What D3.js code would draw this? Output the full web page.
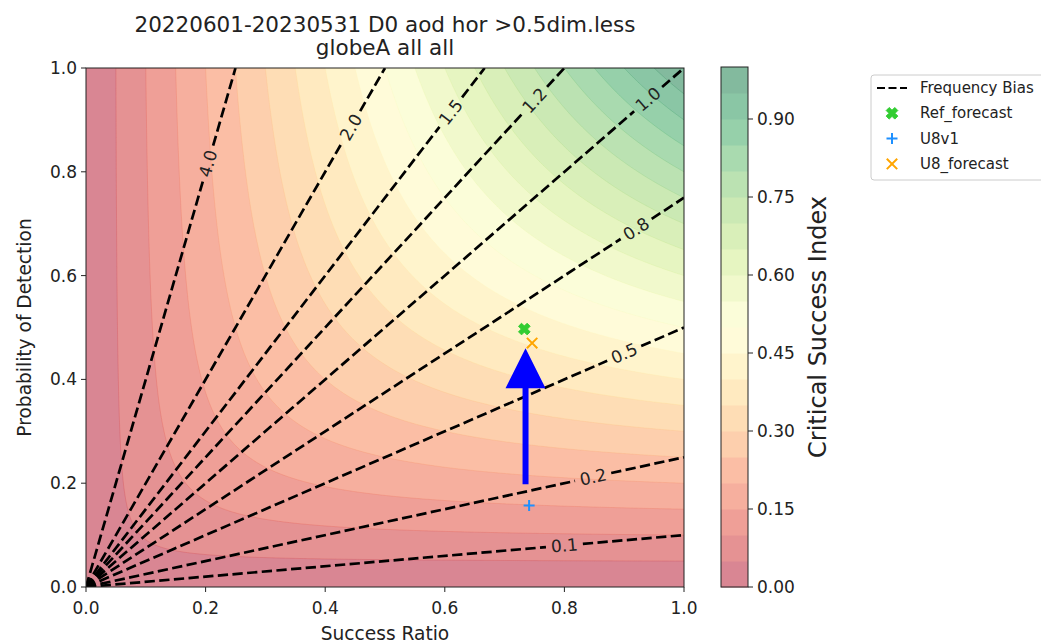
<!DOCTYPE html>
<html><head><meta charset="utf-8">
<script src="https://cdn.jsdelivr.net/npm/d3@7"></script>
<style>
body{margin:0;background:#fff;}
text{font-family:"DejaVu Sans",sans-serif;fill:#222;}
</style></head>
<body>
<svg id="chart" width="1041" height="643"></svg>
<script>
// ---------- data ----------
const titleLines = ["20220601-20230531 D0 aod hor >0.5dim.less", "globeA all all"];
const csiLevels = d3.range(0, 1.0001, 0.05).map(v => +v.toFixed(2));
const biasValues = [0.1, 0.25, 0.5, 0.75, 1.0, 1.25, 1.5, 2.0, 4.0];
const biasLabels = ["0.1", "0.2", "0.5", "0.8", "1.0", "1.2", "1.5", "2.0", "4.0"];
const biasLabelSR = [0.80, 0.848, 0.90, 0.92, 0.94, 0.75, 0.61, 0.443, 0.204];
const axisTicks = [0, 0.2, 0.4, 0.6, 0.8, 1.0];
const cbarTicks = [0, 0.15, 0.30, 0.45, 0.60, 0.75, 0.90];
const seriesNames = ["Ref_forecast", "U8v1", "U8_forecast"];
const seriesSR = [0.733, 0.741, 0.746];
const seriesPOD = [0.497, 0.157, 0.470];
const seriesColors = ["#32CD32", "#1E90FF", "#FFA500"];
const seriesMarkers = ["Xfilled", "plus", "x"];
const arrowSR = 0.735, arrowFrom = 0.198, arrowTo = 0.46;

// ---------- colormap (matplotlib RdYlGn, alpha 0.5) ----------
const rdylgn = ["#a50026","#d73027","#f46d43","#fdae61","#fee08b","#ffffbf","#d9ef8b","#a6d96a","#66bd63","#1a9850","#006837"];
function cmap(t){
  t = Math.max(0, Math.min(1, t));
  const p = t*10, i = Math.min(9, Math.floor(p)), f = p - i;
  return d3.interpolateRgb(rdylgn[i], rdylgn[i+1])(f);
}
const alpha = 0.5;
function blend(c){
  const r = d3.rgb(c);
  return d3.rgb(255 - alpha*(255-r.r), 255 - alpha*(255-r.g), 255 - alpha*(255-r.b)).formatHex();
}

const svg = d3.select("#chart");
const x = d3.scaleLinear([0,1],[86,684]);
const y = d3.scaleLinear([0,1],[587,68]);

svg.append("clipPath").attr("id","clip").append("rect")
  .attr("x",x(0)).attr("y",y(1)).attr("width",x(1)-x(0)).attr("height",y(0)-y(1));
const plot = svg.append("g").attr("clip-path","url(#clip)");

// ---------- CSI filled contours ----------
const n = 301;
const vals = new Float64Array(n*n);
for (let j=0;j<n;j++) for (let i=0;i<n;i++){
  const sr = i/(n-1), pod = j/(n-1);
  vals[i + j*n] = (sr<=0||pod<=0) ? 0 : 1/(1/sr + 1/pod - 1);
}
const clamp01 = v => Math.max(0, Math.min(1, v));
const proj = d3.geoTransform({point(px,py){ this.stream.point(x(clamp01((px-0.5)/(n-1))), y(clamp01((py-0.5)/(n-1)))); }});
const gpath = d3.geoPath(proj);
const bandColor = k => cmap((csiLevels[k]+csiLevels[k+1])/2);
plot.append("rect").attr("x",x(0)).attr("y",y(1)).attr("width",x(1)-x(0)).attr("height",y(0)-y(1))
  .attr("fill", blend(bandColor(0)));
const thr = csiLevels.slice(1, -1);
const contours = d3.contours().size([n,n]).thresholds(thr)(vals);
contours.forEach((c, k) => {
  plot.append("path").attr("d", gpath(c))
    .attr("fill", blend(bandColor(k+1)))
    .attr("stroke", bandColor(k+1)).attr("stroke-opacity", 0.22).attr("stroke-width", 0.9);
});

// ---------- frequency bias lines ----------
const linesG = plot.append("g");
const labelsG = svg.append("g");
biasValues.forEach((b, k) => {
  const s = biasLabelSR[k];
  const p = [x(s), y(b*s)];
  const o = [x(0), y(0)];
  const end = b <= 1 ? [x(1), y(b)] : [x(1/b), y(1)];
  const dx = end[0]-o[0], dy = end[1]-o[1], L = Math.hypot(dx,dy);
  const u = [dx/L, dy/L];
  const ang = Math.atan2(dy, dx)*180/Math.PI;
  const t = labelsG.append("text").attr("x", p[0]).attr("y", p[1])
    .attr("text-anchor","middle").attr("dominant-baseline","central")
    .attr("font-size", 17).attr("transform", `rotate(${ang},${p[0]},${p[1]})`).text(biasLabels[k]);
  const w = t.node().getComputedTextLength();
  const g = w/2 + 5;
  const segs = [[o, [p[0]-g*u[0], p[1]-g*u[1]]], [[p[0]+g*u[0], p[1]+g*u[1]], end]];
  segs.forEach(sg => {
    linesG.append("line").attr("x1",sg[0][0]).attr("y1",sg[0][1]).attr("x2",sg[1][0]).attr("y2",sg[1][1])
      .attr("stroke","#000").attr("stroke-width",2.7).attr("stroke-dasharray","10.3,4.4");
  });
});

// ---------- arrow ----------
{
  const sw = x(0.01)-x(0), hw = 20, hl = 40;
  const xc = x(arrowSR), yb = y(arrowFrom), yt = y(arrowTo);
  const pts = [[xc-sw/2,yb],[xc-sw/2,yt+hl],[xc-hw,yt+hl],[xc,yt],[xc+hw,yt+hl],[xc+sw/2,yt+hl],[xc+sw/2,yb]];
  svg.append("path").attr("d", d3.line()(pts)+"Z").attr("fill","#0000ff");
}

// ---------- markers ----------
function drawMarker(g, type, cx, cy, color){
  if (type === "Xfilled"){
    const s = 6.6, t = 0.22*s*1.6;
    const base = [[t,s],[t,t],[s,t],[s,-t],[t,-t],[t,-s],[-t,-s],[-t,-t],[-s,-t],[-s,t],[-t,t],[-t,s]];
    const c = Math.cos(Math.PI/4), sn = Math.sin(Math.PI/4);
    const pts = base.map(([a,b]) => [cx + (a*c - b*sn)*0.92, cy + (a*sn + b*c)*0.92]);
    g.append("path").attr("d", d3.line()(pts)+"Z").attr("fill", color).attr("stroke", color).attr("stroke-width",1).attr("stroke-linejoin","round");
  } else if (type === "plus"){
    const s = 5.5;
    g.append("path").attr("d", `M${cx-s},${cy}L${cx+s},${cy}M${cx},${cy-s}L${cx},${cy+s}`)
      .attr("stroke", color).attr("stroke-width", 2).attr("fill","none");
  } else {
    const s = 5.2;
    g.append("path").attr("d", `M${cx-s},${cy-s}L${cx+s},${cy+s}M${cx-s},${cy+s}L${cx+s},${cy-s}`)
      .attr("stroke", color).attr("stroke-width", 2).attr("fill","none");
  }
}
const ptsG = svg.append("g");
seriesNames.forEach((nm, k) => drawMarker(ptsG, seriesMarkers[k], x(seriesSR[k]), y(seriesPOD[k]), seriesColors[k]));

// ---------- axes ----------
svg.append("rect").attr("x",x(0)).attr("y",y(1)).attr("width",x(1)-x(0)).attr("height",y(0)-y(1))
  .attr("fill","none").attr("stroke","#222").attr("stroke-width",1);
const fmt1 = d3.format(".1f");
axisTicks.forEach(v => {
  svg.append("line").attr("x1",x(v)).attr("x2",x(v)).attr("y1",y(0)).attr("y2",y(0)+5).attr("stroke","#222");
  svg.append("text").attr("x",x(v)).attr("y",y(0)+21).attr("text-anchor","middle").attr("dominant-baseline","central")
    .attr("font-size",17).text(fmt1(v));
  svg.append("line").attr("y1",y(v)).attr("y2",y(v)).attr("x1",x(0)).attr("x2",x(0)-5).attr("stroke","#222");
  svg.append("text").attr("x",x(0)-9).attr("y",y(v)).attr("text-anchor","end").attr("dominant-baseline","central")
    .attr("font-size",17).text(fmt1(v));
});
svg.append("text").attr("x",(x(0)+x(1))/2).attr("y",633).attr("text-anchor","middle").attr("dominant-baseline","central")
  .attr("font-size",18.6).text("Success Ratio");
svg.append("text").attr("transform",`translate(24,${(y(0)+y(1))/2}) rotate(-90)`).attr("text-anchor","middle")
  .attr("dominant-baseline","central").attr("font-size",18.6).text("Probability of Detection");
{
  const tt = svg.append("text").attr("text-anchor","middle").attr("font-size",21.5);
  titleLines.forEach((tl, i) => {
    tt.append("tspan").attr("x",(x(0)+x(1))/2).attr("y",32.3 + i*22.7).text(tl);
  });
}

// ---------- colorbar ----------
const cb = {x0:721, x1:748};
const cy = d3.scaleLinear([0,1],[587,67]);
for (let k=0;k<csiLevels.length-1;k++){
  svg.append("rect").attr("x",cb.x0).attr("width",cb.x1-cb.x0)
    .attr("y",cy(csiLevels[k+1])).attr("height",cy(csiLevels[k])-cy(csiLevels[k+1])+0.5)
    .attr("fill", blend(bandColor(k)));
}
svg.append("rect").attr("x",cb.x0).attr("y",cy(1)).attr("width",cb.x1-cb.x0).attr("height",cy(0)-cy(1))
  .attr("fill","none").attr("stroke","#222").attr("stroke-width",1);
const fmt2 = d3.format(".2f");
cbarTicks.forEach(v => {
  svg.append("line").attr("x1",cb.x1).attr("x2",cb.x1+5).attr("y1",cy(v)).attr("y2",cy(v)).attr("stroke","#222");
  svg.append("text").attr("x",cb.x1+9).attr("y",cy(v)).attr("dominant-baseline","central").attr("font-size",17).text(fmt2(v));
});
svg.append("text").attr("transform",`translate(818,${(cy(0)+cy(1))/2}) rotate(-90)`).attr("text-anchor","middle")
  .attr("dominant-baseline","central").attr("font-size",24).text("Critical Success Index");

// ---------- legend ----------
const lg = svg.append("g");
lg.append("rect").attr("x",871).attr("y",75).attr("width",200).attr("height",105).attr("rx",3)
  .attr("fill","#fff").attr("fill-opacity",0.8).attr("stroke","#cccccc");
const legendNames = ["Frequency Bias"].concat(seriesNames);
legendNames.forEach((nm, k) => {
  const ly = 88 + k*25.3;
  if (k === 0){
    lg.append("line").attr("x1",877).attr("x2",907).attr("y1",ly).attr("y2",ly)
      .attr("stroke","#000").attr("stroke-width",2.2).attr("stroke-dasharray","8,3.5");
  } else {
    drawMarker(lg, seriesMarkers[k-1], 892, ly, seriesColors[k-1]);
  }
  lg.append("text").attr("x",920).attr("y",ly).attr("dominant-baseline","central").attr("font-size",15).text(nm);
});
</script>
</body></html>
